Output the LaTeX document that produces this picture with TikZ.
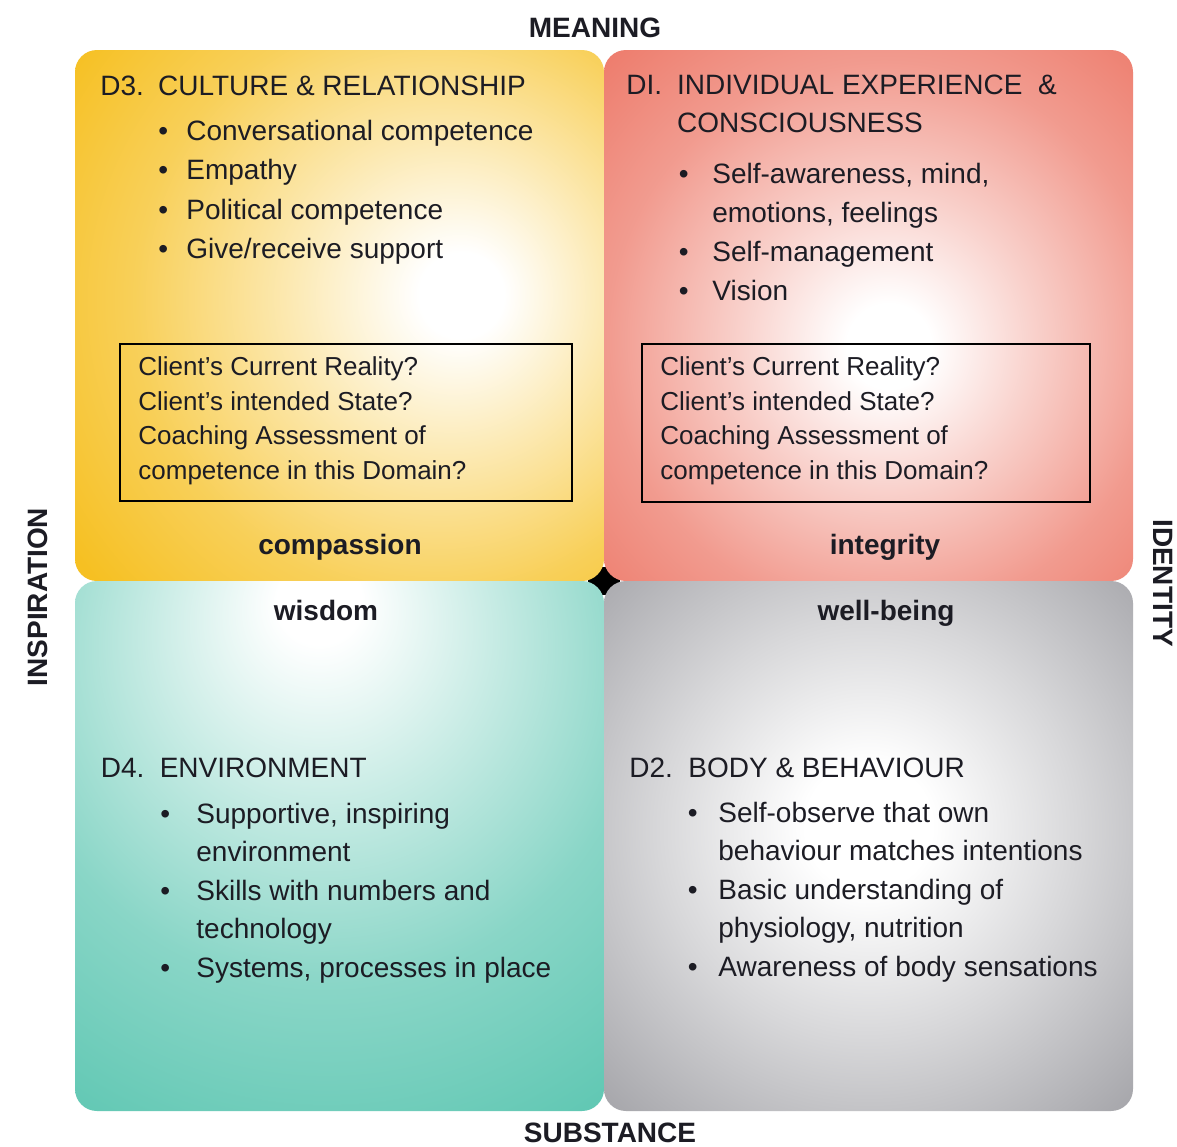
\documentclass[tikz,border=0pt]{standalone}
\usepackage{fontspec}
\setmainfont{Liberation Sans}
\usepackage{tikz}

\definecolor{ink}{RGB}{28,28,36}
\definecolor{cultgold}{RGB}{246,192,34}
\definecolor{indivred}{RGB}{237,122,106}
\definecolor{envteal}{RGB}{98,200,180}
\definecolor{bodygray}{RGB}{140,140,146}

\pgfdeclareradialshading{cultureshade}{\pgfpoint{12bp}{2bp}}{%
  color(0bp)=(white); color(4bp)=(white); color(15bp)=(cultgold!35);
  color(28bp)=(cultgold!75); color(40bp)=(cultgold); color(100bp)=(cultgold)}
\pgfdeclareradialshading{indivshade}{\pgfpoint{2bp}{-3bp}}{%
  color(0bp)=(white); color(4bp)=(white); color(14bp)=(indivred!35);
  color(26bp)=(indivred!75); color(38bp)=(indivred); color(100bp)=(indivred)}
\pgfdeclareradialshading{envshade}{\pgfpoint{-2bp}{24bp}}{%
  color(0bp)=(white); color(4bp)=(white); color(16bp)=(envteal!35);
  color(30bp)=(envteal!75); color(45bp)=(envteal); color(100bp)=(envteal)}
\pgfdeclareradialshading{bodyshade}{\pgfpoint{0bp}{2bp}}{%
  color(0bp)=(white); color(6bp)=(white); color(20bp)=(bodygray!35);
  color(35bp)=(bodygray!75); color(50bp)=(bodygray); color(100bp)=(bodygray!90!black)}

\newcommand{\clientqueries}{%
  \begin{tabular}[t]{@{}l@{}}
    Client’s Current Reality?\\
    Client’s intended State?\\
    Coaching Assessment of\\
    competence in this Domain?
  \end{tabular}}

\begin{document}
\begin{tikzpicture}[x=0.5pt, y=-0.5pt,
    every node/.style={inner sep=0pt, text=ink},
    quadrant/.style={rounded corners=11pt},
    heading/.style={anchor=base west, font=\fontsize{14}{19}\selectfont},
    bullets/.style={anchor=base west, font=\fontsize{14}{#1}\selectfont},
    query/.style={anchor=base west, font=\fontsize{13}{17.25}\selectfont},
    qbox/.style={draw=black, line width=1pt},
    virtue/.style={anchor=base, font=\fontsize{14}{17}\selectfont\bfseries},
    axis/.style={font=\fontsize{14}{17}\selectfont\bfseries}]

  \useasboundingbox (0,0) rectangle (1177,1146);
  \fill[white] (0,0) rectangle (1177,1146);

  \fill[black] (588,567) rectangle (620,595);
  \shade[quadrant, shading=cultureshade] (75,50) rectangle (604,581);
  \shade[quadrant, shading=indivshade] (604,50) rectangle (1133,581);
  \shade[quadrant, shading=envshade] (75,581) rectangle (604,1111);
  \shade[quadrant, shading=bodyshade] (604,581) rectangle (1133,1111);

  \node[axis] (meaning) at (595,28) {MEANING};
  \node[axis] (substance) at (610,1133) {SUBSTANCE};
  \node[axis, rotate=90] (inspiration) at (38,597) {INSPIRATION};
  \node[axis, rotate=-90] (identity) at (1163,583) {IDENTITY};

  % D3
  \node[heading] (d3) at (100,95.5) {\makebox[28.85pt][l]{D3.}CULTURE \& RELATIONSHIP};
  \node[bullets=19.75pt] (d3list) at (158,140) {%
    \begin{tabular}[t]{@{}p{14pt}@{}l@{}}
      \textbullet & Conversational competence\\
      \textbullet & Empathy\\
      \textbullet & Political competence\\
      \textbullet & Give/receive support
    \end{tabular}};
  \draw[qbox] (120,344) rectangle (572,501);
  \node[query] (d3query) at (138,375.5) {\clientqueries};
  \node[virtue] (compassion) at (340,554) {compassion};

  % D1
  \node[heading] (d1) at (626,94) {%
    \begin{tabular}[t]{@{}p{25.35pt}@{}l@{}}
      DI. & INDIVIDUAL EXPERIENCE \ \&\\
          & CONSCIOUSNESS
    \end{tabular}};
  \node[bullets=19.5pt] (d1list) at (678.5,183.5) {%
    \begin{tabular}[t]{@{}p{16.75pt}@{}l@{}}
      \textbullet & Self-awareness, mind,\\
                  & emotions, feelings\\
      \textbullet & Self-management\\
      \textbullet & Vision
    \end{tabular}};
  \draw[qbox] (642,344) rectangle (1090,502);
  \node[query] (d1query) at (660,375.5) {\clientqueries};
  \node[virtue] (integrity) at (885,554) {integrity};

  % D4
  \node[virtue] (wisdom) at (326,620) {wisdom};
  \node[heading] (d4) at (100.4,777) {\makebox[29.5pt][l]{D4.}ENVIRONMENT};
  \node[bullets=19.25pt] (d4list) at (160,823) {%
    \begin{tabular}[t]{@{}p{18pt}@{}l@{}}
      \textbullet & Supportive, inspiring\\
                  & environment\\
      \textbullet & Skills with numbers and\\
                  & technology\\
      \textbullet & Systems, processes in place
    \end{tabular}};

  % D2
  \node[virtue] (wellbeing) at (886,620) {well-being};
  \node[heading] (d2) at (629,777) {\makebox[29.5pt][l]{D2.}BODY \& BEHAVIOUR};
  \node[bullets=19.25pt] (d2list) at (687.5,822) {%
    \begin{tabular}[t]{@{}p{15.25pt}@{}l@{}}
      \textbullet & Self-observe that own\\
                  & behaviour matches intentions\\
      \textbullet & Basic understanding of\\
                  & physiology, nutrition\\
      \textbullet & Awareness of body sensations
    \end{tabular}};

\end{tikzpicture}
\end{document}
